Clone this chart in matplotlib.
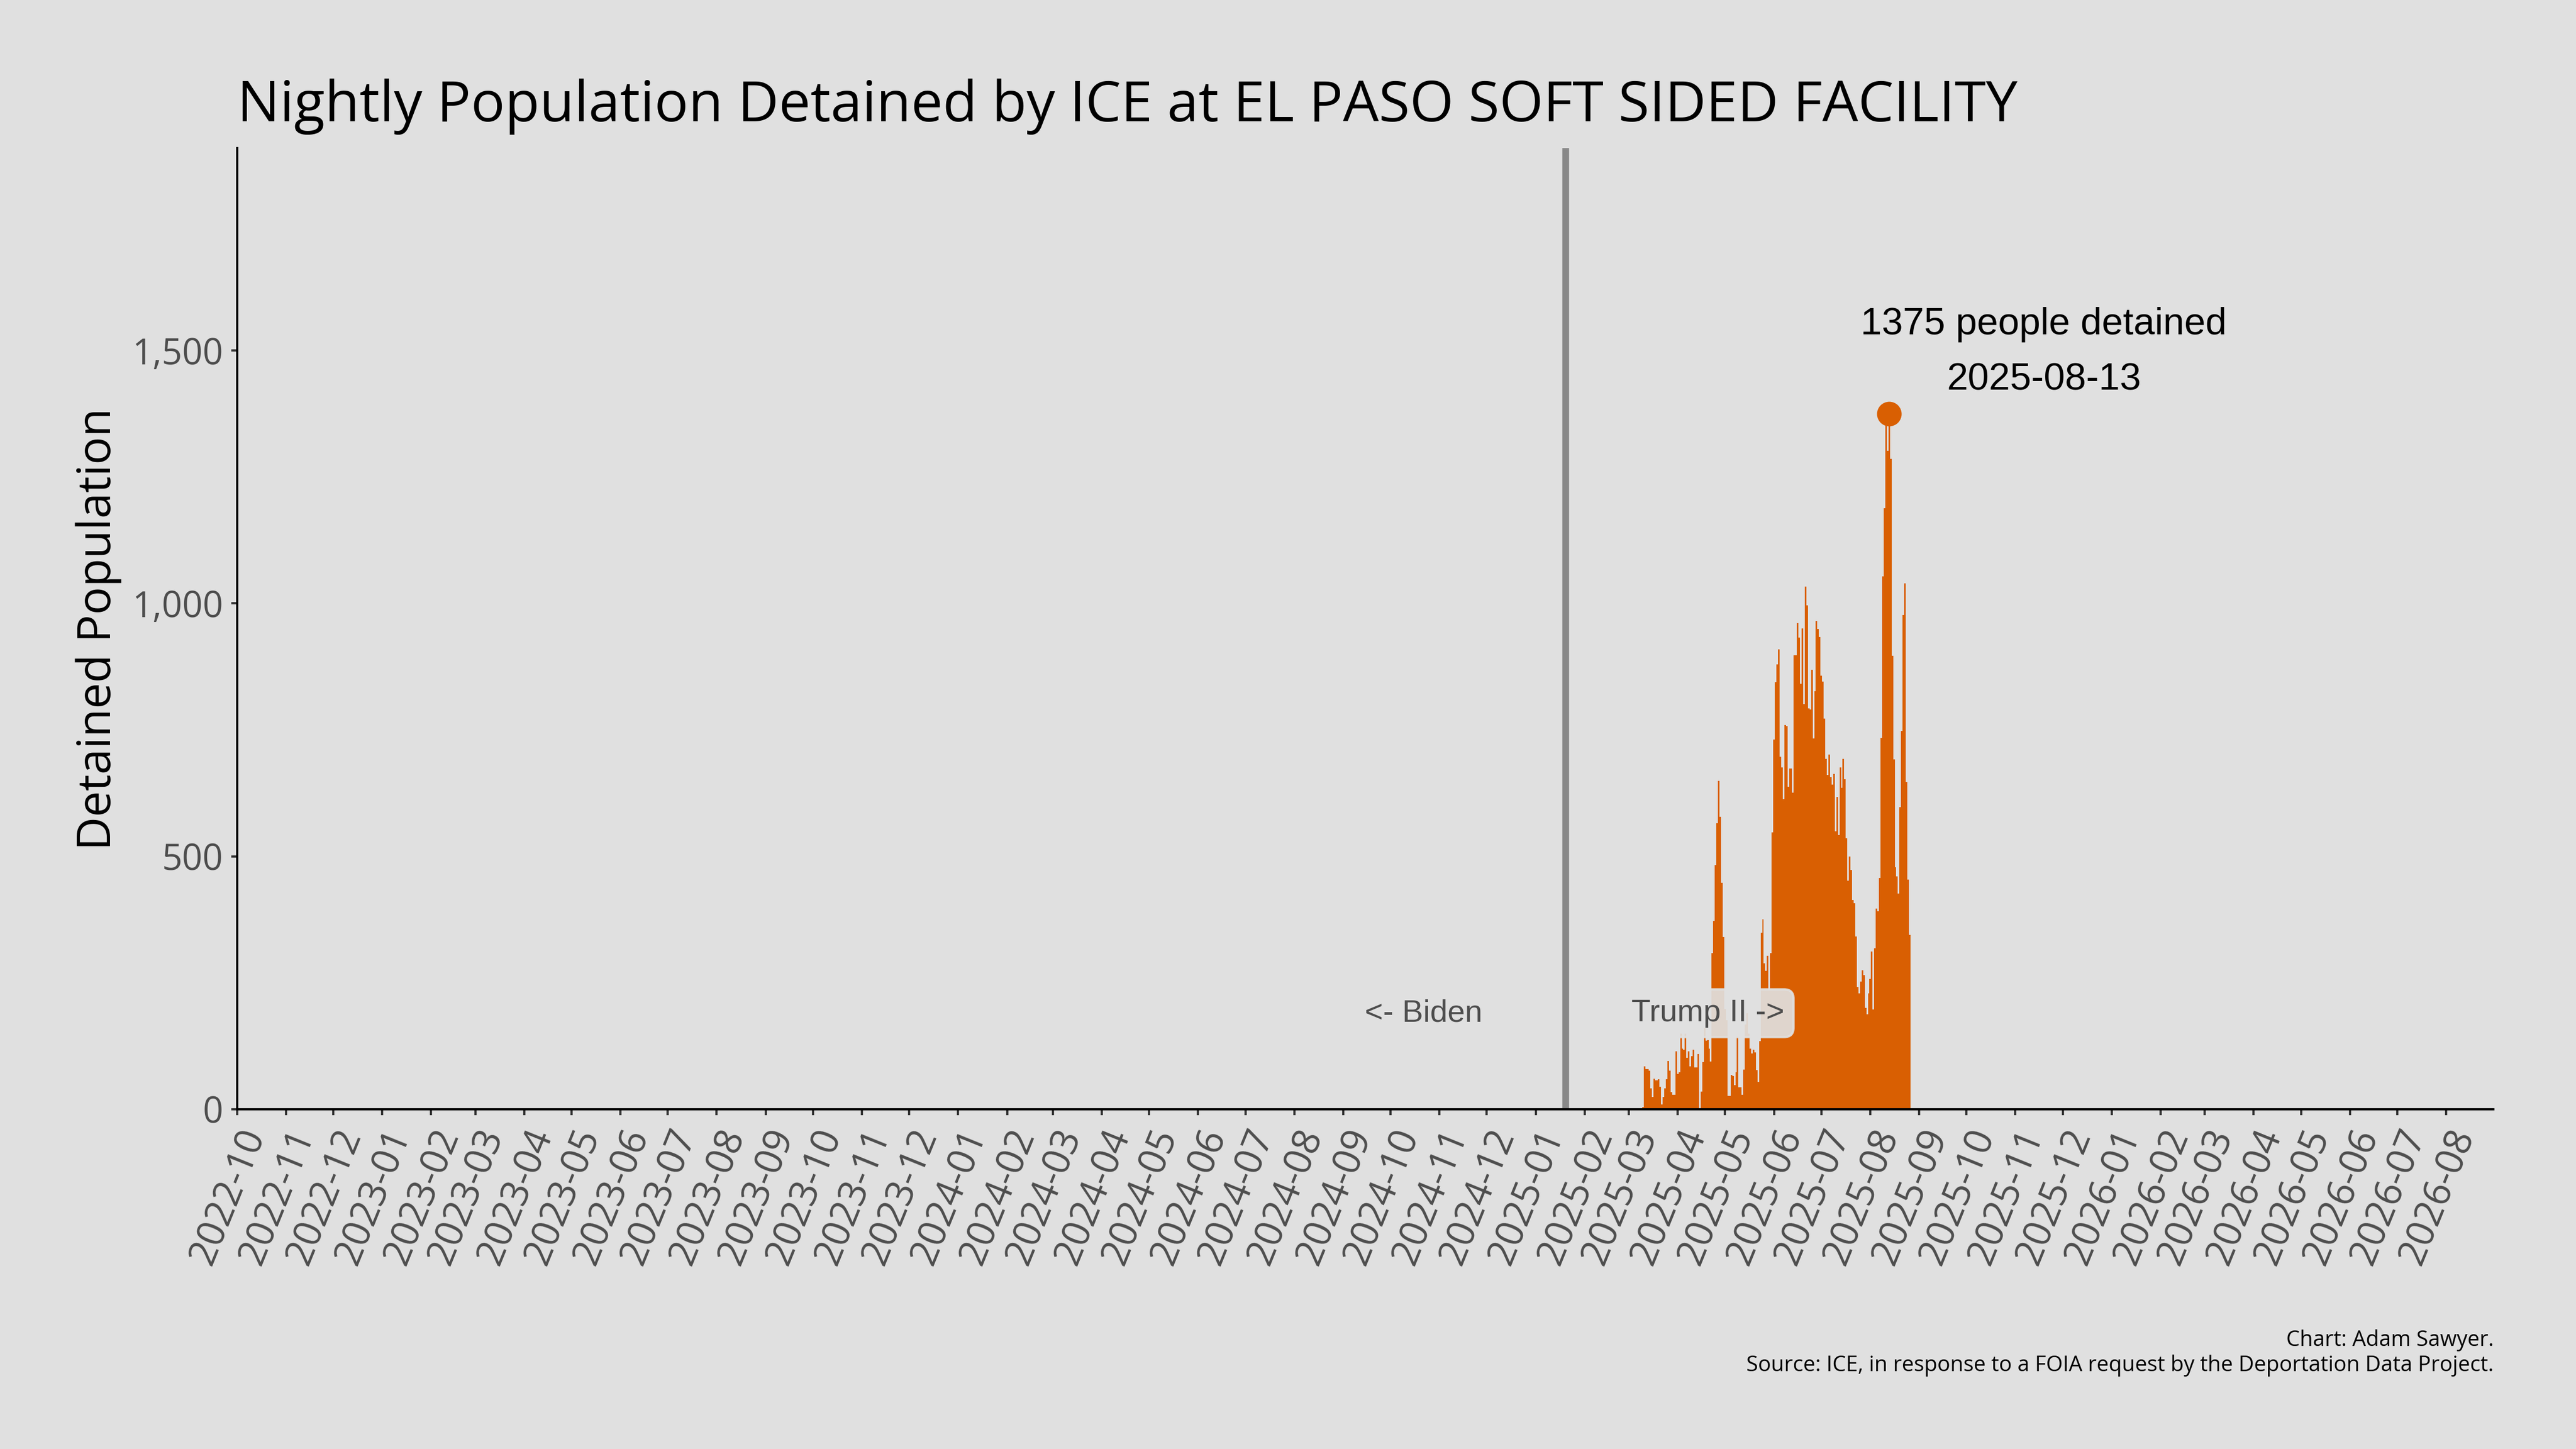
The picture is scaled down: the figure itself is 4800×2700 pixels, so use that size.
import matplotlib
import matplotlib.pyplot as plt
import matplotlib.dates as mdates
import pandas as pd

from matplotlib.ticker import FuncFormatter

matplotlib.use("Agg")

# Nightly counts, one per night from FIRST_NIGHT on.
FIRST_NIGHT = "2025-03-10"
NIGHTLY_POPULATION = [
    4, 85, 80, 80, 76, 42, 25, 61, 57, 57, 59, 45, 10, 25, 41, 59, 96, 76, 34, 29,
    29, 115, 70, 73, 150, 120, 118, 150, 102, 115, 85, 105, 118, 83, 83, 109, 0, 35, 93, 160,
    136, 137, 120, 95, 309, 372, 483, 566, 649, 578, 448, 341, 198, 176, 27, 27, 68, 66, 48, 73,
    143, 44, 44, 29, 79, 168, 190, 150, 120, 110, 118, 113, 78, 54, 135, 349, 376, 289, 274, 304,
    236, 309, 547, 731, 844, 880, 909, 697, 676, 613, 760, 758, 638, 674, 674, 626, 898, 897, 961, 932,
    841, 951, 801, 1033, 996, 792, 790, 869, 733, 826, 965, 949, 934, 857, 846, 772, 693, 661, 701, 657,
    642, 663, 550, 617, 542, 676, 635, 693, 652, 536, 452, 500, 473, 414, 407, 342, 242, 229, 253, 275,
    265, 201, 188, 229, 258, 312, 197, 318, 397, 392, 457, 734, 1053, 1188, 1360, 1302, 1375, 1286, 896, 692,
    478, 461, 427, 597, 748, 977, 1040, 647, 454, 345, 2, 2, 2, 2, 2, 2, 2, 2,
]

INAUGURATION = "2025-01-20"
X_RANGE = ["2022-10-01", "2026-08-31"]
Y_TICKS = [0, 500, 1000, 1500]
Y_MAX = 1900

TITLE = "Nightly Population Detained by ICE at EL PASO SOFT SIDED FACILITY"
Y_LABEL = "Detained Population"
ERA_LABELS = ["<- Biden", "Trump II ->"]
FOOTER = ("Chart: Adam Sawyer.\n"
          "Source: ICE, in response to a FOIA request by the Deportation Data Project.")

BG = "#e0e0e0"
ORANGE = "#d95f02"
GREY_TEXT = "#4d4d4d"


def draw(output="out.png"):
    """
    Draws the nightly population bars with the inauguration marker and saves to output.
    :param output: path of the png to write
    :return: None
    """
    plt.rcParams["font.family"] = ["Open Sans", "DejaVu Sans"]

    nights = pd.date_range(FIRST_NIGHT, periods=len(NIGHTLY_POPULATION), freq="D")
    counts = pd.Series(NIGHTLY_POPULATION, index=nights)

    fig = plt.figure(figsize=(16, 9), dpi=300, facecolor=BG)
    ax = fig.add_axes([0.092, 0.2344, 0.876, 0.6634], facecolor=BG)

    ax.bar(counts.index, counts.values, width=1.0, color=ORANGE, linewidth=0)

    # inauguration line
    inaug = pd.Timestamp(INAUGURATION)
    ax.axvline(inaug, color="#888888", linewidth=3)

    box = dict(boxstyle="round,pad=0.3", facecolor=BG, edgecolor=BG, alpha=0.92)
    ax.text(inaug - pd.Timedelta(days=90), Y_MAX * 0.1, ERA_LABELS[0], ha="center", va="center",
            fontsize=14, color=GREY_TEXT, family="Liberation Sans", bbox=box)
    ax.text(inaug + pd.Timedelta(days=90), Y_MAX * 0.1, ERA_LABELS[1], ha="center", va="center",
            fontsize=14, color=GREY_TEXT, family="Liberation Sans", bbox=box)

    # peak night
    peak_day = counts.idxmax()
    peak = counts.max()
    ax.plot(peak_day, peak, "o", markersize=10, color=ORANGE)
    ax.text(peak_day + pd.Timedelta(days=98), 1496, f"{peak} people detained\n{peak_day:%Y-%m-%d}",
            ha="center", va="center", fontsize=17, linespacing=1.72, family="Liberation Sans")

    ax.set_xlim(pd.Timestamp(X_RANGE[0]), pd.Timestamp(X_RANGE[1]))
    ax.set_ylim(0, Y_MAX)
    ax.set_yticks(Y_TICKS)
    ax.yaxis.set_major_formatter(FuncFormatter(lambda v, _: f"{int(v):,}"))
    ax.xaxis.set_major_locator(mdates.MonthLocator())
    ax.xaxis.set_major_formatter(mdates.DateFormatter("%Y-%m"))

    for side in ["top", "right"]:
        ax.spines[side].set_visible(False)
    for side in ["left", "bottom"]:
        ax.spines[side].set_linewidth(1.0)
        ax.spines[side].set_color("black")

    ax.tick_params(axis="both", length=2.7, width=1.0, color="#333333", labelcolor=GREY_TEXT,
                   labelsize=16, pad=3.5)
    ax.tick_params(axis="x", labelsize=17)
    for label in ax.get_xticklabels():
        label.set_rotation(68)
        label.set_ha("right")
        label.set_rotation_mode("anchor")

    fig.text(0.092, 1 - 199 / 2700, TITLE, ha="left", va="center", fontsize=25.3, color="black")
    fig.text(0.0383, 0.566, Y_LABEL, rotation=90, ha="center", va="center", fontsize=20.7,
             color="black")
    fig.text(0.968, 1 - 2521 / 2700, FOOTER, ha="right", va="center", fontsize=9.6,
             color="black", linespacing=1.2)

    fig.savefig(output, dpi=300, facecolor=BG)
    print(f"Saved graph to \"{output}\".")


if __name__ == '__main__':
    draw()
